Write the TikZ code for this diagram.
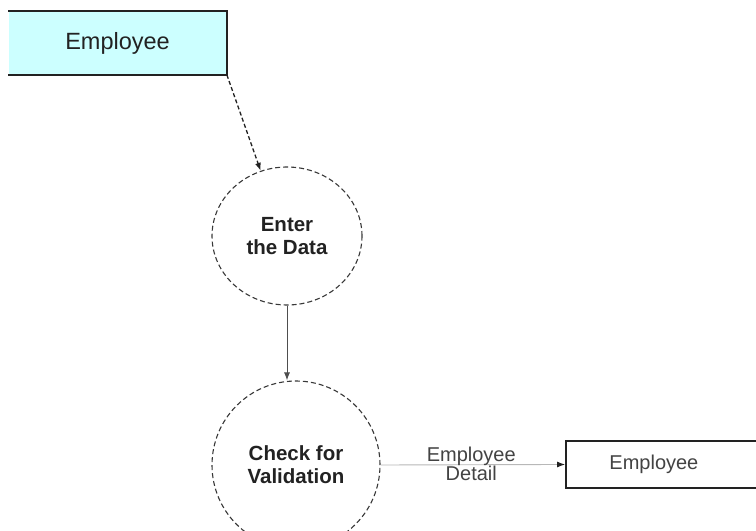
\documentclass[tikz,border=0pt]{standalone}
\usepackage{fontspec}
\setmainfont{Liberation Sans}
\usetikzlibrary{shapes.geometric,arrows.meta}
\definecolor{entityfill}{HTML}{CCFFFF}
\definecolor{ink}{HTML}{222222}
\definecolor{flowgray}{HTML}{B8B8B8}
\tikzset{
  procbubble/.style={draw=ink!90, line width=1.1bp, dash pattern=on 5bp off 3bp, align=center,
    font=\fontsize{20.5bp}{23bp}\selectfont\bfseries, text=ink, inner sep=0pt},
  entitybox/.style={line width=1.8bp, inner sep=0pt, text=ink},
  flowtip/.style={-{Latex[length=8bp,width=6bp]}},
}
\begin{document}
\begin{tikzpicture}[x=1bp,y=-1bp]
  \useasboundingbox[fill=white] (0,0) rectangle (756,531);

  % source entity: open on its left side
  \node[entitybox, fill=entityfill, minimum width=217bp, minimum height=62bp,
        font=\fontsize{23.5bp}{26bp}\selectfont] (src) at (117.5,43) {Employee};
  \draw[line width=1.8bp, draw=ink] (src.north west) -- (src.north east)
        -- (src.south east) -- (src.south west);

  % processes
  \node[procbubble, ellipse, minimum width=150bp, minimum height=138bp] (p1) at (287,236)
        {Enter\\the Data};
  \node[procbubble, circle, minimum size=168bp] (p2) at (296,465)
        {Check for\\Validation};

  % sink entity: runs off the right side
  \node[entitybox, draw=ink, anchor=west, minimum width=200bp, minimum height=47bp,
        label={[name=dstlbl, xshift=-12bp, text=ink!85, font=\fontsize{20bp}{23bp}\selectfont]center:Employee}]
        (dst) at (565,464.5) {};

  % data flows
  \draw[flowtip, draw=ink, line width=1.3bp, dash pattern=on 4bp off 2.5bp] (src.south east) -- (p1.112);
  \draw[flowtip, draw=ink!80, line width=1bp] (p1.south) -- (p1.south |- p2.north);
  \draw[draw=flowgray, line width=0.9bp] (p2.east) -- ([xshift=-7bp]dst.west)
        node[midway, xshift=2bp, yshift=1bp, align=center, text=ink!85, font=\fontsize{20bp}{16bp}\selectfont] (lbl) {Employee\\Detail};
  \draw[flowtip, draw=ink, line width=0.9bp] ([xshift=-8bp]dst.west) -- (dst.west);
\end{tikzpicture}
\end{document}
